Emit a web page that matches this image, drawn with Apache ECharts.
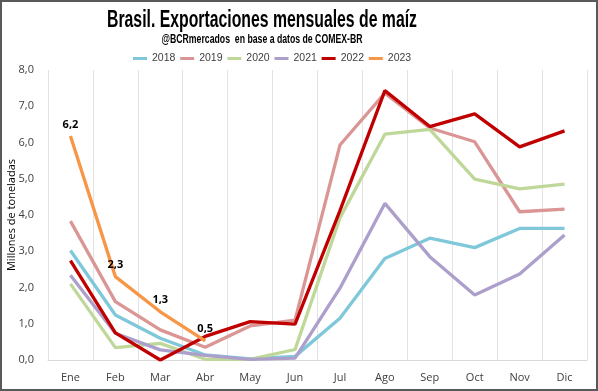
<!DOCTYPE html>
<html><head><meta charset="utf-8">
<script src="https://cdn.jsdelivr.net/npm/echarts@6/dist/echarts.min.js"></script>
<style>
html,body{margin:0;padding:0;background:#fff;}
#c{width:598px;height:391px;box-sizing:border-box;border:2px solid #595959;}
</style></head>
<body><div id="c"></div>
<script>
const months = ['Ene','Feb','Mar','Abr','May','Jun','Jul','Ago','Sep','Oct','Nov','Dic'];
const s2018 = [3.02,1.24,0.60,0.14,0.03,0.10,1.15,2.80,3.36,3.10,3.63,3.63];
const s2019 = [3.83,1.61,0.83,0.35,0.94,1.10,5.93,7.36,6.40,6.02,4.09,4.16];
const s2020 = [2.10,0.34,0.46,0.02,0.02,0.29,3.92,6.23,6.36,4.99,4.72,4.85];
const s2021 = [2.34,0.74,0.28,0.13,0.02,0.05,1.98,4.32,2.85,1.79,2.37,3.45];
const s2022 = [2.74,0.75,0.00,0.65,1.06,0.99,4.12,7.43,6.44,6.79,5.88,6.32];
const s2023 = [6.18,2.30,1.33,0.53];
const yTicks = [0,1,2,3,4,5,6,7,8];
const titleText = 'Brasil. Exportaciones mensuales de maíz';
const subText = '@BCRmercados  en base a datos de COMEX-BR';

const fmt = v => Number(v).toFixed(1).replace('.', ',');
const colors = {'2018':'#7FC8DA','2019':'#DA9694','2020':'#BFD89A','2021':'#AD9FCB','2022':'#C00000','2023':'#F79646'};
const mk = (name, data, extra) => Object.assign({
  name, type:'line', data, symbol:'none', smooth:false,
  lineStyle:{width:3.3, color:colors[name]}, itemStyle:{color:colors[name]},
  z: 2
}, extra||{});

const ctx = document.createElement('canvas').getContext('2d');
function fitScale(text, font, target){ ctx.font = font; return target / ctx.measureText(text).width; }
const titleFont = 'bold 23px "Liberation Sans", sans-serif';
const subFont = 'bold 12px "Liberation Sans", sans-serif';
const tScale = fitScale(titleText, titleFont, 310);
const sScale = fitScale(subText, subFont, 201);

const chart = echarts.init(document.getElementById('c'), null, {renderer:'canvas'});
chart.setOption({
  animation:false,
  graphic:[
    {type:'text', x:260, y:18.5, scaleX:tScale, style:{text:titleText, x:0, y:0, align:'center', verticalAlign:'middle', font:titleFont, fill:'#000'}},
    {type:'text', x:260, y:38, scaleX:sScale, style:{text:subText, x:0, y:0, align:'center', verticalAlign:'middle', font:subFont, fill:'#000'}}
  ],
  legend:{
    top:46, left:126, itemWidth:14, itemHeight:3, itemGap:4.8, icon:'rect',
    textStyle:{fontFamily:'"Liberation Sans",sans-serif', fontSize:10.5, color:'#404040'},
    data:['2018','2019','2020','2021','2022','2023']
  },
  grid:{left:46, right:9, top:68, bottom:29, containLabel:false, outerBoundsMode:'none'},
  xAxis:{
    type:'category', data:months, boundaryGap:true,
    axisLine:{show:true, lineStyle:{color:'#d9d9d9'}},
    axisTick:{show:false},
    axisLabel:{fontFamily:'"Open Sans",sans-serif', fontSize:11, color:'#404040', margin:12},
    splitLine:{show:true, lineStyle:{color:'#e3e3e3'}}
  },
  yAxis:{
    type:'value', min:yTicks[0], max:yTicks[yTicks.length-1], interval:1,
    name:'Millones de toneladas', nameLocation:'middle', nameGap:31, nameMoveOverlap:false,
    nameTextStyle:{fontFamily:'"Open Sans",sans-serif', fontSize:11, color:'#000'},
    axisLine:{show:false}, axisTick:{show:false},
    axisLabel:{fontFamily:'"Open Sans",sans-serif', fontSize:11, color:'#404040', formatter:fmt, margin:14},
    splitLine:{show:false}
  },
  series:[
    mk('2018', s2018),
    mk('2019', s2019),
    mk('2020', s2020),
    mk('2021', s2021),
    mk('2022', s2022, {z:3}),
    mk('2023', s2023, {z:4, symbol:'circle', symbolSize:0, showSymbol:true,
      label:{show:true, position:'top', distance:6, formatter:p=>fmt(p.value),
      fontFamily:'"Open Sans",sans-serif', fontWeight:'bold', fontSize:11, color:'#000'}})
  ]
});
</script></body></html>
